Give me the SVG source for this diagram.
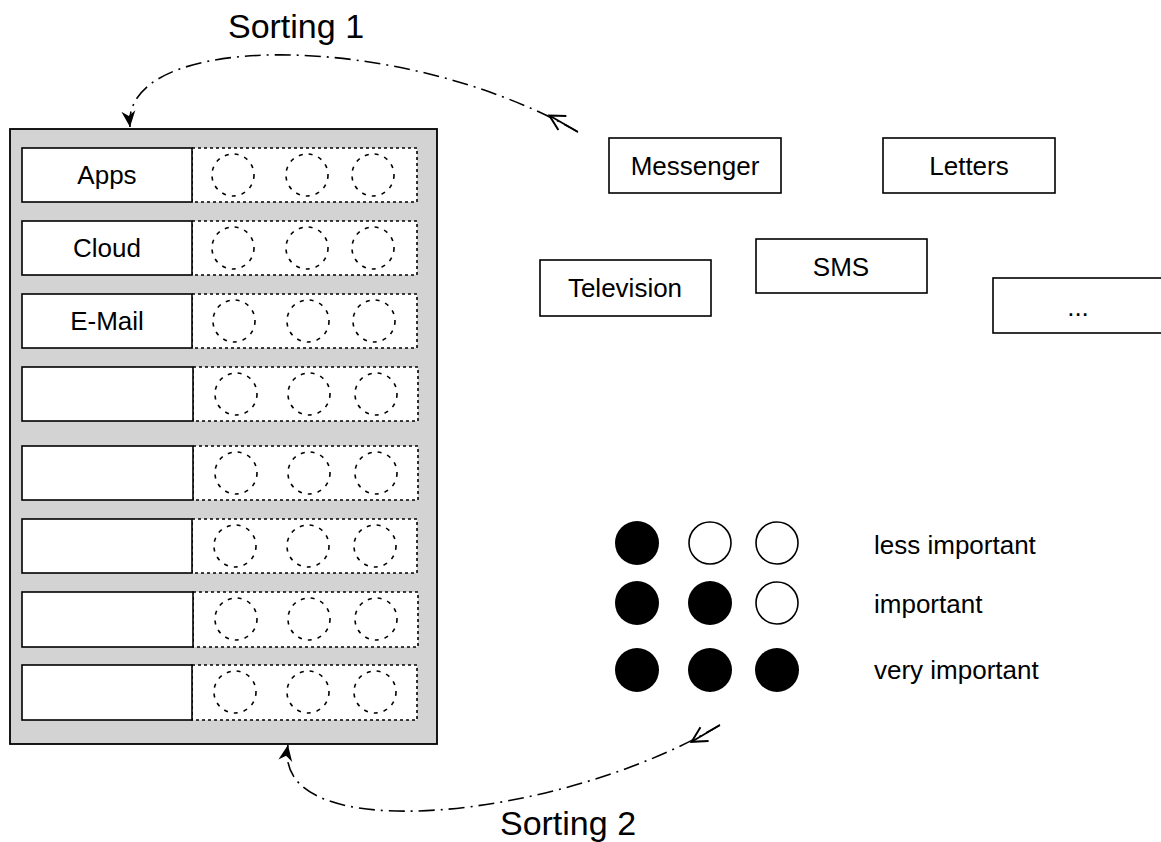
<svg xmlns="http://www.w3.org/2000/svg" width="1161" height="842" viewBox="0 0 1161 842">
<style>
text{font-family:"Liberation Sans",Arial,sans-serif;fill:#000}
.lbl{font-size:26px;text-anchor:middle}
.leg{font-size:26px}
.title{font-size:34px;text-anchor:middle}
.box{fill:#fff;stroke:#000;stroke-width:1.6}
.slot{fill:#fff;stroke:#000;stroke-width:1.6;stroke-dasharray:3 3}
.dc{fill:none;stroke:#000;stroke-width:1.6;stroke-dasharray:4 6}
.conn{fill:none;stroke:#000;stroke-width:1.6;stroke-dasharray:16 6 2 6}
.full{fill:#000}
.empty{fill:#fff;stroke:#000;stroke-width:1.6}
</style>
<defs>
<marker id="head" markerWidth="20" markerHeight="20" refX="16" refY="8" orient="auto" markerUnits="userSpaceOnUse">
<path d="M0,1 L16,8 L0,15 L5,8 Z" fill="#000"/>
</marker>
<marker id="tail" markerWidth="40" markerHeight="24" refX="0" refY="10" orient="auto" markerUnits="userSpaceOnUse">
<path d="M0,10 L32,10" stroke="#000" stroke-width="1.8"/>
<path d="M18,2 L33,10 L18,18" fill="none" stroke="#000" stroke-width="2"/>
</marker>
</defs>

<g id="panel">
<rect x="10" y="129" width="427" height="615" fill="#d3d3d3" stroke="#000" stroke-width="1.8"/>
</g>

<g id="row1">
<rect class="slot" x="192" y="148" width="225" height="54"/>
<rect class="box" x="22" y="148" width="170" height="54"/>
<text class="lbl" x="107" y="184">Apps</text>
<circle class="dc" cx="233" cy="175" r="21"/><circle class="dc" cx="307" cy="175" r="21"/><circle class="dc" cx="373" cy="175" r="21"/>
</g>
<g id="row2">
<rect class="slot" x="192" y="221" width="225" height="54"/>
<rect class="box" x="22" y="221" width="170" height="54"/>
<text class="lbl" x="107" y="257">Cloud</text>
<circle class="dc" cx="233" cy="248" r="21"/><circle class="dc" cx="307" cy="248" r="21"/><circle class="dc" cx="373" cy="248" r="21"/>
</g>
<g id="row3">
<rect class="slot" x="192" y="294" width="225" height="54"/>
<rect class="box" x="22" y="294" width="170" height="54"/>
<text class="lbl" x="107" y="330">E-Mail</text>
<circle class="dc" cx="234" cy="321" r="21"/><circle class="dc" cx="308" cy="321" r="21"/><circle class="dc" cx="374" cy="321" r="21"/>
</g>
<g id="row4">
<rect class="slot" x="193" y="367" width="225" height="54"/>
<rect class="box" x="22" y="367" width="171" height="54"/>
<circle class="dc" cx="236" cy="394" r="21"/><circle class="dc" cx="309" cy="394" r="21"/><circle class="dc" cx="376" cy="394" r="21"/>
</g>
<g id="row5">
<rect class="slot" x="193" y="446" width="225" height="54"/>
<rect class="box" x="22" y="446" width="171" height="54"/>
<circle class="dc" cx="236" cy="473" r="21"/><circle class="dc" cx="309" cy="473" r="21"/><circle class="dc" cx="376" cy="473" r="21"/>
</g>
<g id="row6">
<rect class="slot" x="192" y="519" width="225" height="54"/>
<rect class="box" x="22" y="519" width="170" height="54"/>
<circle class="dc" cx="235" cy="546" r="21"/><circle class="dc" cx="308" cy="546" r="21"/><circle class="dc" cx="375" cy="546" r="21"/>
</g>
<g id="row7">
<rect class="slot" x="193" y="592" width="225" height="55"/>
<rect class="box" x="22" y="592" width="171" height="55"/>
<circle class="dc" cx="236" cy="619" r="21"/><circle class="dc" cx="309" cy="619" r="21"/><circle class="dc" cx="376" cy="619" r="21"/>
</g>
<g id="row8">
<rect class="slot" x="192" y="665" width="225" height="55"/>
<rect class="box" x="22" y="665" width="170" height="55"/>
<circle class="dc" cx="235" cy="692" r="21"/><circle class="dc" cx="308" cy="692" r="21"/><circle class="dc" cx="375" cy="692" r="21"/>
</g>

<g id="messenger">
<rect class="box" x="609" y="138" width="172" height="55"/>
<text class="lbl" x="695" y="175">Messenger</text>
</g>
<g id="letters">
<rect class="box" x="883" y="138" width="172" height="55"/>
<text class="lbl" x="969" y="175">Letters</text>
</g>
<g id="sms">
<rect class="box" x="756" y="239" width="171" height="54"/>
<text class="lbl" x="841" y="276">SMS</text>
</g>
<g id="television">
<rect class="box" x="540" y="260" width="171" height="56"/>
<text class="lbl" x="625" y="297">Television</text>
</g>
<g id="more">
<rect class="box" x="993" y="278" width="172" height="55"/>
<text class="lbl" x="1078" y="316">...</text>
</g>

<g id="legend">
<circle class="full" cx="637" cy="543" r="22"/>
<circle class="empty" cx="710" cy="543" r="21"/>
<circle class="empty" cx="777" cy="543" r="21"/>
<circle class="full" cx="637" cy="603" r="22"/>
<circle class="full" cx="710" cy="603" r="22"/>
<circle class="empty" cx="777" cy="603" r="21"/>
<circle class="full" cx="637" cy="670" r="22"/>
<circle class="full" cx="710" cy="670" r="22"/>
<circle class="full" cx="777" cy="670" r="22"/>
<text class="leg" x="874" y="554">less important</text>
<text class="leg" x="874" y="613">important</text>
<text class="leg" x="874" y="679">very important</text>
</g>

<g id="connectors">
<path class="conn" d="M578,132 C400,30 120,30 130,127" marker-start="url(#tail)" marker-end="url(#head)"/>
<path class="conn" d="M720,725 C560,820 270,850 288,745" marker-start="url(#tail)" marker-end="url(#head)"/>
<text class="title" x="296" y="38">Sorting 1</text>
<text class="title" x="568" y="835">Sorting 2</text>
</g>
</svg>
